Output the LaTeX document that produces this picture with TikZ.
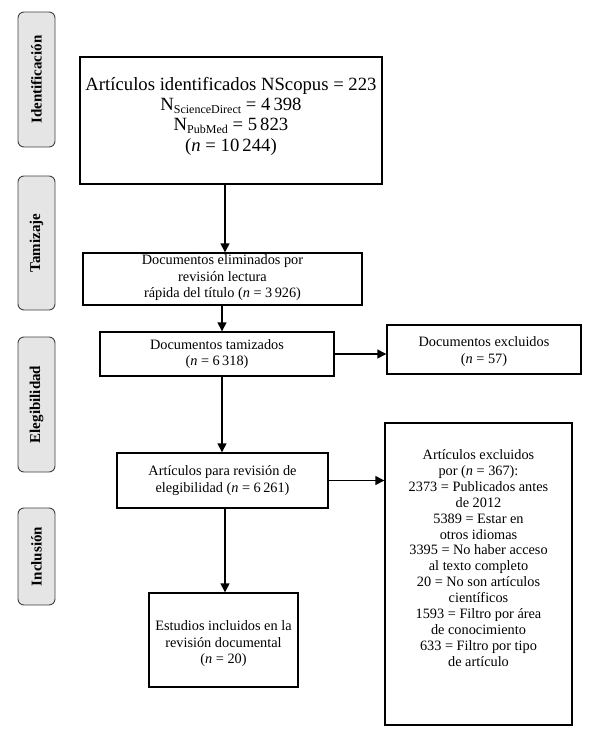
\documentclass[tikz,border=0pt]{standalone}
\usepackage{fontspec}
\setmainfont{Liberation Serif}
\usetikzlibrary{arrows.meta}
\begin{document}
\begin{tikzpicture}[x=1pt,y=-1pt,
  box/.style={draw=black, line width=1.4pt, fill=white},
  txt/.style={align=center, font=\fontsize{14.3}{16.5}\selectfont, inner sep=0pt},
  tab/.style={draw=black!75, line width=0.9pt, fill=black!10, rounded corners=6pt},
  tabtxt/.style={rotate=90, font=\bfseries\fontsize{15}{17}\selectfont, inner sep=0pt},
  arr/.style={line width=1.4pt, -{Triangle[width=9pt,length=9pt]}}]
\useasboundingbox (0,0) rectangle (589,734);
% left tabs
\draw[tab] (18,12) rectangle (55,147);
\node[tabtxt] (t1) at (36.5,79.5) {Identificación};
\draw[tab] (18,176) rectangle (55,310);
\node[tabtxt] (t2) at (36.5,243) {Tamizaje};
\draw[tab] (18,337) rectangle (55,472);
\node[tabtxt] (t3) at (36.5,404.5) {Elegibilidad};
\draw[tab] (18,508) rectangle (55,605);
\node[tabtxt] (t4) at (36.5,556.5) {Inclusión};
% boxes
\node[box, minimum width=302pt, minimum height=127pt, inner sep=0pt] (b1) at (231,120.5) {};
\node[txt, font=\fontsize{18.7}{20.3}\selectfont] (b1t) at (231,116) {Artículos identificados NScopus = 223\\
N\raisebox{-0.3ex}{\fontsize{12}{12}\selectfont ScienceDirect} = 4\,398\\
N\raisebox{-0.3ex}{\fontsize{12}{12}\selectfont PubMed} = 5\,823\\
(\textit{n} = 10\,244)};
\node[box, minimum width=279pt, minimum height=52pt, inner sep=0pt] (b2) at (222.5,279) {};
\node[txt] (b2t) at (222.5,278) {Documentos eliminados por\\ revisión lectura\\ rápida del título (\textit{n} = 3\,926)};
\node[box, minimum width=234pt, minimum height=44pt, inner sep=0pt] (b3) at (217,354) {};
\node[txt] (b3t) at (217,354) {Documentos tamizados\\ (\textit{n} = 6\,318)};
\node[box, minimum width=194pt, minimum height=49pt, inner sep=0pt] (b4) at (484,349.5) {};
\node[txt] (b4t) at (484,351.5) {Documentos excluidos\\ (\textit{n} = 57)};
\node[box, minimum width=211pt, minimum height=55pt, inner sep=0pt] (b5) at (222.5,480.5) {};
\node[txt] (b5t) at (222.5,480.5) {Artículos para revisión de\\ elegibilidad (\textit{n} = 6\,261)};
\node[box, minimum width=187pt, minimum height=302pt, inner sep=0pt] (b6) at (478.5,574) {};
\node[txt, font=\fontsize{14.3}{15.9}\selectfont] (b6t) at (478.5,558) {Artículos excluidos\\ por (\textit{n} = 367):\\ 2373 = Publicados antes\\ de 2012\\ 5389 = Estar en\\ otros idiomas\\ 3395 = No haber acceso\\ al texto completo\\ 20 = No son artículos\\ científicos\\ 1593 = Filtro por área\\ de conocimiento\\ 633 = Filtro por tipo\\ de artículo};
\node[box, minimum width=149pt, minimum height=94pt, inner sep=0pt] (b7) at (223.5,640) {};
\node[txt] (b7t) at (223.5,644) {Estudios incluidos en la\\ revisión documental\\ (\textit{n} = 20)};
% arrows
\coordinate (sp) at (225,0);
\coordinate (sp2) at (222,0);
\draw[arr] (b1.south -| sp) -- (b2.north -| sp);
\draw[arr] (b2.south -| sp2) -- (b3.north -| sp2);
\draw[arr] (b3.south -| sp2) -- (b5.north -| sp2);
\draw[arr] (b5.south -| sp) -- (b7.north -| sp);
\draw[arr] (b3.east) -- (b4.west |- b3.east);
\draw[arr] (b5.east) -- (b6.west |- b5.east);
\end{tikzpicture}
\end{document}
